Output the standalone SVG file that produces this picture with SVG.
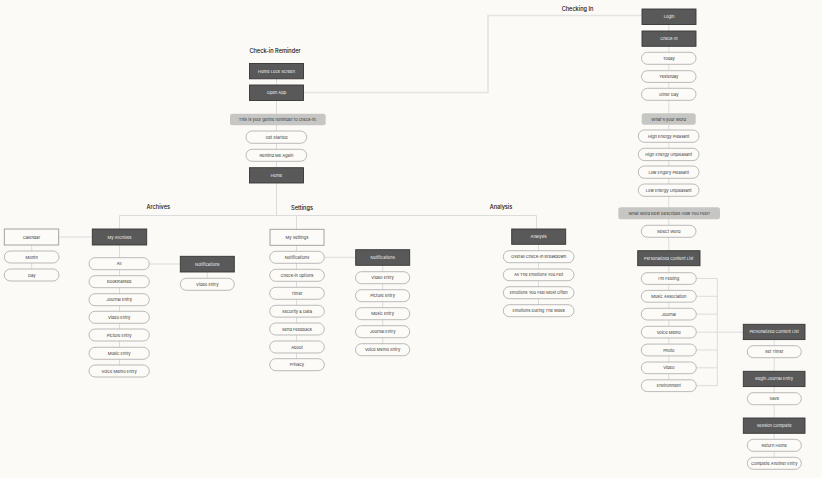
<svg xmlns="http://www.w3.org/2000/svg" width="822" height="478" viewBox="0 0 822 478">
<style>
.bg{fill:#fbfaf6}
.ln{fill:none;stroke:#dcdcdc;stroke-width:1}
.lw{fill:none;stroke:#e4e4e2;stroke-width:1.6}
.dk{fill:#595959;stroke:#363636;stroke-width:0.9}
.pl{fill:#fcfbf8;stroke:#a9a9a9;stroke-width:0.8}
.bx{fill:#fcfbf8;stroke:#9a9a9a;stroke-width:0.9}
.gb{fill:#c6c6c4}
text{font-family:Inter,"Liberation Sans",Arial,sans-serif;text-anchor:middle}
.w{fill:#f4f4f4;font-size:4.1px}
.b{fill:#333;font-size:4.1px}
.h{fill:#111;font-size:5.6px;font-weight:500}
</style>
<rect class="bg" x="0" y="0" width="822" height="478"/>

<g id="connectors">
<path class="lw" d="M303.5,92.5 H488 V15.5 H642"/>
<path class="ln" d="M276.5,78 V215.5"/>
<path class="ln" d="M119.5,229 V215.5 H536.5 V229"/>
<path class="ln" d="M296.5,215.5 V229.3"/>
<path class="ln" d="M119.5,245 V371"/>
<path class="ln" d="M58.7,237 H92.3"/>
<path class="ln" d="M31.7,245 V275"/>
<path class="ln" d="M149.3,264 H180.3"/>
<path class="ln" d="M207.3,272 V278.3"/>
<path class="ln" d="M296.5,245.3 V365"/>
<path class="ln" d="M324.3,257.3 H355.7"/>
<path class="ln" d="M382.7,265.3 V350"/>
<path class="ln" d="M538.5,244.3 V311"/>
<path class="ln" d="M668.8,24 V386"/>
<path class="ln" d="M696.3,278.5 H717.3 M696.3,296.3 H717.3 M696.3,314.2 H717.3 M696.3,350 H717.3 M696.3,367.8 H717.3 M696.3,385.7 H717.3 M717.3,278.5 V385.7"/>
<path class="ln" d="M696.3,332.2 H743.3"/>
<path class="ln" d="M774.2,339.6 V463"/>
</g>

<g id="headings">
<text class="h" x="577.5" y="11">Checking In</text>
<text class="h" x="275" y="53">Check-in Reminder</text>
<text class="h" x="158.3" y="209">Archives</text>
<text class="h" x="302" y="209.5">Settings</text>
<text class="h" x="501" y="209">Analysis</text>
</g>

<g id="home-lock-screen"><rect class="dk" x="249.5" y="63.5" width="54" height="15.3"/><text class="w" x="276.5" y="72.6">Home Lock Screen</text></g>
<g id="open-app"><rect class="dk" x="249.5" y="85" width="54" height="15.5"/><text class="w" x="276.5" y="94.2">Open App</text></g>
<g id="reminder"><rect class="gb" x="230" y="113.7" width="95.7" height="11.6" rx="2.5"/><text class="b" x="277.8" y="121">This is your gentle reminder to check-in.</text></g>
<g id="get-started"><rect class="pl" x="246" y="131" width="60.7" height="12.3" rx="6.1"/><text class="b" x="276.4" y="138.6">Get Started</text></g>
<g id="remind-me-again"><rect class="pl" x="246" y="149.3" width="60.7" height="12" rx="6"/><text class="b" x="276.4" y="156.8">Remind Me Again</text></g>
<g id="home"><rect class="dk" x="249.5" y="167.7" width="54" height="15.3"/><text class="w" x="276.5" y="176.8">Home</text></g>

<g id="login"><rect class="dk" x="642" y="9" width="54" height="15.5"/><text class="w" x="669" y="18.2">Login</text></g>
<g id="check-in"><rect class="dk" x="642" y="31" width="54" height="15.3"/><text class="w" x="669" y="40.1">Check-In</text></g>
<g id="today"><rect class="pl" x="641.5" y="52.3" width="54.5" height="12" rx="6"/><text class="b" x="668.8" y="59.8">Today</text></g>
<g id="yesterday"><rect class="pl" x="641.5" y="70.7" width="54.5" height="11.7" rx="5.8"/><text class="b" x="668.8" y="78">Yesterday</text></g>
<g id="other-day"><rect class="pl" x="641.5" y="88.3" width="54.5" height="12" rx="6"/><text class="b" x="668.8" y="95.8">Other Day</text></g>
<g id="whats-your-word"><rect class="gb" x="641.7" y="113.3" width="54" height="11.4" rx="2.5"/><text class="b" x="668.7" y="120.5">What's your Word</text></g>
<g id="high-energy-pleasant"><rect class="pl" x="638.3" y="130" width="60.7" height="12.3" rx="6.1"/><text class="b" x="668.7" y="137.6">High Energy Pleasant</text></g>
<g id="high-energy-unpleasant"><rect class="pl" x="638.3" y="148.3" width="60.7" height="12.3" rx="6.1"/><text class="b" x="668.7" y="155.9">High Energy Unpleasant</text></g>
<g id="low-engery-pleasant"><rect class="pl" x="638.3" y="166" width="60.7" height="12.3" rx="6.1"/><text class="b" x="668.7" y="173.6">Low Engery Pleasant</text></g>
<g id="low-energy-unpleasant"><rect class="pl" x="638.3" y="184" width="60.7" height="12.3" rx="6.1"/><text class="b" x="668.7" y="191.6">Low Energy Unpleasant</text></g>
<g id="what-word"><rect class="gb" x="618.3" y="207.3" width="101.7" height="12" rx="2.5"/><text class="b" x="669.2" y="214.8">What Word Best Describes How You Feel?</text></g>
<g id="select-word"><rect class="pl" x="641.3" y="225.3" width="54.7" height="12" rx="6"/><text class="b" x="668.7" y="232.8">Select Word</text></g>
<g id="personalized-content-list"><rect class="dk" x="637.7" y="250.7" width="62.3" height="15" /><text class="w" x="668.8" y="259.7">Personalized Content List</text></g>
<g id="im-feeling"><rect class="pl" x="641.3" y="272.7" width="55" height="11.7" rx="5.8"/><text class="b" x="668.8" y="280">I'm Feeling</text></g>
<g id="music-association"><rect class="pl" x="641.3" y="290.4" width="55" height="11.8" rx="5.9"/><text class="b" x="668.8" y="297.8">Music Association</text></g>
<g id="journal"><rect class="pl" x="641.3" y="308.3" width="55" height="11.7" rx="5.8"/><text class="b" x="668.8" y="315.6">Journal</text></g>
<g id="voice-memo"><rect class="pl" x="641.3" y="326.3" width="55" height="11.7" rx="5.8"/><text class="b" x="668.8" y="333.6">Voice Memo</text></g>
<g id="photo"><rect class="pl" x="641.3" y="344.1" width="55" height="11.8" rx="5.9"/><text class="b" x="668.8" y="351.5">Photo</text></g>
<g id="video"><rect class="pl" x="641.3" y="362" width="55" height="11.7" rx="5.8"/><text class="b" x="668.8" y="369.3">Video</text></g>
<g id="environment"><rect class="pl" x="641.3" y="379.8" width="55" height="11.8" rx="5.9"/><text class="b" x="668.8" y="387.2">Environment</text></g>
<g id="personalized-content-list-2"><rect class="dk" x="743.3" y="324.3" width="61.7" height="15.3"/><text class="w" x="774.2" y="333.4">Personalized Content List</text></g>
<g id="set-timer"><rect class="pl" x="747.3" y="345.7" width="54" height="12" rx="6"/><text class="b" x="774.3" y="353.2">Set Timer</text></g>
<g id="begin-journal-entry"><rect class="dk" x="743.3" y="371.3" width="61.7" height="15.3"/><text class="w" x="774.2" y="380.4">Begin Journal Entry</text></g>
<g id="save"><rect class="pl" x="747.3" y="392.7" width="54" height="12" rx="6"/><text class="b" x="774.3" y="400.2">Save</text></g>
<g id="session-complete"><rect class="dk" x="743.3" y="418" width="61.7" height="15.3"/><text class="w" x="774.2" y="427.1">Session Complete</text></g>
<g id="return-home"><rect class="pl" x="747.3" y="439.3" width="54" height="12" rx="6"/><text class="b" x="774.3" y="446.8">Return Home</text></g>
<g id="complete-another-entry"><rect class="pl" x="747.3" y="457.3" width="54" height="12" rx="6"/><text class="b" x="774.3" y="464.8">Complete Another Entry</text></g>

<g id="calendar"><rect class="bx" x="4.3" y="229" width="54.4" height="16"/><text class="b" x="31.5" y="238.5">Calendar</text></g>
<g id="month"><rect class="pl" x="4.3" y="251" width="54.7" height="12" rx="6"/><text class="b" x="31.7" y="258.5">Month</text></g>
<g id="day"><rect class="pl" x="4.3" y="269" width="54.7" height="12" rx="6"/><text class="b" x="31.7" y="276.5">Day</text></g>
<g id="my-archives"><rect class="dk" x="92.3" y="229" width="54.4" height="16"/><text class="w" x="119.5" y="238.5">My Archives</text></g>
<g id="all"><rect class="pl" x="89" y="257.7" width="60.3" height="12" rx="6"/><text class="b" x="119.2" y="265.2">All</text></g>
<g id="bookmarked"><rect class="pl" x="89" y="275.7" width="60.3" height="12" rx="6"/><text class="b" x="119.2" y="283.2">Bookmarked</text></g>
<g id="journal-entry"><rect class="pl" x="89" y="293.7" width="60.3" height="12" rx="6"/><text class="b" x="119.2" y="301.2">Journal Entry</text></g>
<g id="video-entry"><rect class="pl" x="89" y="311.3" width="60.3" height="12" rx="6"/><text class="b" x="119.2" y="318.8">Video Entry</text></g>
<g id="picture-entry"><rect class="pl" x="89" y="329" width="60.3" height="12" rx="6"/><text class="b" x="119.2" y="336.5">Picture Entry</text></g>
<g id="music-entry"><rect class="pl" x="89" y="347.3" width="60.3" height="12" rx="6"/><text class="b" x="119.2" y="354.8">Music Entry</text></g>
<g id="voice-memo-entry"><rect class="pl" x="89" y="365" width="60.3" height="12" rx="6"/><text class="b" x="119.2" y="372.5">Voice Memo Entry</text></g>
<g id="archives-notifications"><rect class="dk" x="180.3" y="256.3" width="54" height="15.7"/><text class="w" x="207.3" y="265.6">Notifications</text></g>
<g id="archives-video-entry"><rect class="pl" x="180.3" y="278.3" width="54" height="12" rx="6"/><text class="b" x="207.3" y="285.8">Video Entry</text></g>

<g id="my-settings"><rect class="bx" x="270" y="229.3" width="54" height="16"/><text class="b" x="297" y="238.8">My Settings</text></g>
<g id="settings-notifications"><rect class="pl" x="269.7" y="251.3" width="54.6" height="12" rx="6"/><text class="b" x="297" y="258.8">Notifications</text></g>
<g id="check-in-options"><rect class="pl" x="269.7" y="269.3" width="54.6" height="12" rx="6"/><text class="b" x="297" y="276.8">Check-in options</text></g>
<g id="timer"><rect class="pl" x="269.7" y="287.3" width="54.6" height="12" rx="6"/><text class="b" x="297" y="294.8">Timer</text></g>
<g id="security-data"><rect class="pl" x="269.7" y="305.3" width="54.6" height="11.8" rx="5.9"/><text class="b" x="297" y="312.7">Security &amp; Data</text></g>
<g id="send-feedback"><rect class="pl" x="269.7" y="323" width="54.6" height="12" rx="6"/><text class="b" x="297" y="330.5">Send Feedback</text></g>
<g id="about"><rect class="pl" x="269.7" y="341" width="54.6" height="12" rx="6"/><text class="b" x="297" y="348.5">About</text></g>
<g id="privacy"><rect class="pl" x="269.7" y="358.7" width="54.6" height="12" rx="6"/><text class="b" x="297" y="366.2">Privacy</text></g>
<g id="notifications-dark"><rect class="dk" x="355.7" y="249.7" width="54" height="15.6"/><text class="w" x="382.7" y="259">Notifications</text></g>
<g id="n-video-entry"><rect class="pl" x="355.5" y="271.7" width="54.2" height="12" rx="6"/><text class="b" x="382.6" y="279.2">Video Entry</text></g>
<g id="n-picture-entry"><rect class="pl" x="355.5" y="289.7" width="54.2" height="12" rx="6"/><text class="b" x="382.6" y="297.2">Picture Entry</text></g>
<g id="n-music-entry"><rect class="pl" x="355.5" y="307.7" width="54.2" height="12" rx="6"/><text class="b" x="382.6" y="315.2">Music Entry</text></g>
<g id="n-journal-entry"><rect class="pl" x="355.5" y="325.7" width="54.2" height="12" rx="6"/><text class="b" x="382.6" y="333.2">Journal Entry</text></g>
<g id="n-voice-memo-entry"><rect class="pl" x="355.5" y="343.7" width="54.2" height="12" rx="6"/><text class="b" x="382.6" y="351.2">Voice Memo Entry</text></g>

<g id="analysis"><rect class="dk" x="511.7" y="229" width="54" height="15.3"/><text class="w" x="538.7" y="238.1">Analysis</text></g>
<g id="overall-check-in-breakdown"><rect class="pl" x="503.3" y="250.7" width="70.7" height="12" rx="6"/><text class="b" x="538.7" y="258.2">Overall Check-In Breakdown</text></g>
<g id="all-the-emotions"><rect class="pl" x="503.3" y="269" width="70.7" height="11.7" rx="5.8"/><text class="b" x="538.7" y="276.3">All The Emotions You Felt</text></g>
<g id="emotions-most-often"><rect class="pl" x="503.3" y="286.7" width="70.7" height="12" rx="6"/><text class="b" x="538.7" y="294.2">Emotions You Feel Most Often</text></g>
<g id="emotions-during-week"><rect class="pl" x="503.3" y="304.7" width="70.7" height="12" rx="6"/><text class="b" x="538.7" y="312.2">Emotions During The Week</text></g>
</svg>
